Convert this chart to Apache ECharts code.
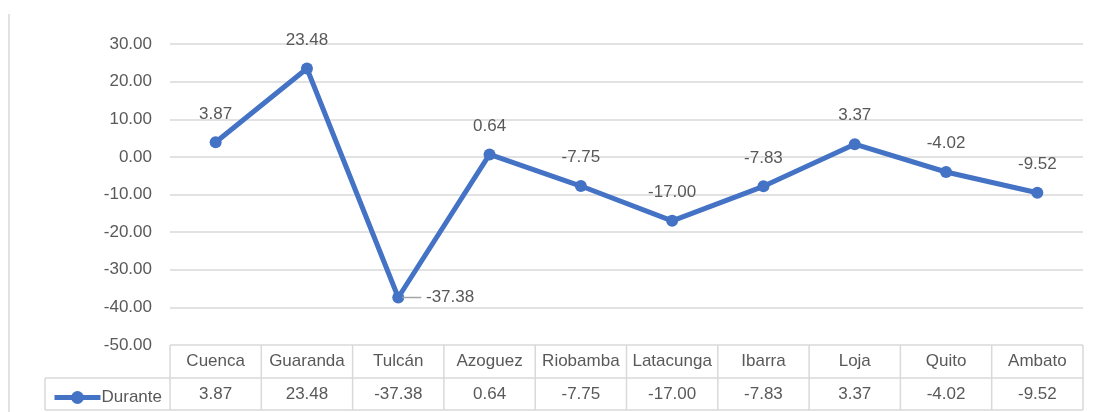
<!DOCTYPE html>
<html>
<head>
<meta charset="utf-8">
<script src="https://cdn.jsdelivr.net/npm/echarts@6/dist/echarts.min.js"></script>
<style>
  html, body { margin: 0; padding: 0; background: #fff; }
  #chart { width: 1093px; height: 412px; }
</style>
</head>
<body>
<div id="chart"></div>
<script>
// datos
const cities = ['Cuenca', 'Guaranda', 'Tulcán', 'Azoguez', 'Riobamba', 'Latacunga', 'Ibarra', 'Loja', 'Quito', 'Ambato']
const durante = [3.87, 23.48, -37.38, 0.64, -7.75, -17.0, -7.83, 3.37, -4.02, -9.52]
const seriesName = 'Durante'

const FONT = '"Liberation Sans Narrow", "Liberation Sans", sans-serif'
const TXT = '#595959'
const BORDER = '#d9d9d9'
const BLUE = '#4472C4'

const chart = echarts.init(document.getElementById('chart'))

const option = {
  animation: false,
  textStyle: { fontFamily: FONT },
  grid: { left: 170, right: 10, top: 44, bottom: 67 },
  legend: {
    data: [seriesName],
    left: 47,
    top: 384,
    itemWidth: 46,
    itemHeight: 16,
    itemGap: 0,
    lineStyle: { width: 5 },
    textStyle: { color: TXT, fontSize: 17, fontFamily: FONT, padding: [0, 0, 0, -4] }
  },
  xAxis: [
    {
      type: 'category',
      data: cities,
      axisLine: { show: false },
      axisTick: { show: false },
      axisLabel: { color: TXT, fontSize: 17, fontFamily: FONT, margin: 8, interval: 0, hideOverlap: false }
    },
    {
      type: 'category',
      data: cities,
      position: 'bottom',
      axisLine: { show: false },
      axisTick: { show: false },
      axisLabel: {
        color: TXT, fontSize: 17, fontFamily: FONT, margin: 41, interval: 0, hideOverlap: false,
        formatter: (v, i) => durante[i].toFixed(2)
      }
    }
  ],
  yAxis: {
    type: 'value',
    min: -50,
    max: 30,
    interval: 10,
    axisLine: { show: false },
    axisTick: { show: false },
    axisLabel: { color: TXT, fontSize: 17, fontFamily: FONT, margin: 18, formatter: (v) => v.toFixed(2) },
    splitLine: { lineStyle: { color: BORDER, width: 1.5 } }
  },
  series: [
    {
      name: seriesName,
      type: 'line',
      data: durante.map((v, i) => {
        if (v < -30) {
          return {
            value: v,
            label: {
              position: 'right',
              distance: -2,
              formatter: '{ln|} {t|' + v.toFixed(2) + '}',
              rich: {
                ln: { width: 19, height: 1.5, backgroundColor: '#a6a6a6' },
                t: { color: TXT, fontSize: 17, fontFamily: FONT }
              }
            }
          }
        }
        return v
      }),
      symbol: 'circle',
      symbolSize: 12,
      lineStyle: { color: BLUE, width: 5 },
      itemStyle: { color: BLUE },
      label: {
        show: true,
        position: 'top',
        distance: 14,
        color: TXT,
        fontSize: 17,
        fontFamily: FONT,
        formatter: (p) => p.value.toFixed(2)
      }
    }
  ]
}

chart.setOption(option)

// tabla de datos: bordes a partir de los ejes
function drawTable() {
  const n = cities.length
  const y0 = chart.convertToPixel({ yAxisIndex: 0 }, -50)
  const c0 = chart.convertToPixel({ xAxisIndex: 0 }, cities[0])
  const c1 = chart.convertToPixel({ xAxisIndex: 0 }, cities[1])
  const band = c1 - c0
  const xl = c0 - band / 2
  const xr = xl + band * n
  const rowH = 33
  const y1 = y0 + rowH
  const y2 = y1 + rowH - 1
  const legLeft = 45
  const st = { stroke: BORDER, lineWidth: 1.5 }
  const els = []
  els.push({ type: 'line', shape: { x1: legLeft, y1: y1, x2: xr, y2: y1 }, style: st })
  els.push({ type: 'line', shape: { x1: legLeft, y1: y2, x2: xr, y2: y2 }, style: st })
  els.push({ type: 'line', shape: { x1: legLeft, y1: y1, x2: legLeft, y2: y2 }, style: st })
  for (let i = 0; i <= n; i++) {
    const x = xl + band * i
    els.push({ type: 'line', shape: { x1: x, y1: y0, x2: x, y2: y2 }, style: st })
  }
  // borde izquierdo del área
  els.push({ type: 'line', shape: { x1: 9, y1: 14, x2: 9, y2: 412 }, style: { stroke: BORDER, lineWidth: 1.5 } })
  chart.setOption({ graphic: els.map((e) => Object.assign({ silent: true, z: 0 }, e)) })
}
drawTable()
</script>
</body>
</html>
